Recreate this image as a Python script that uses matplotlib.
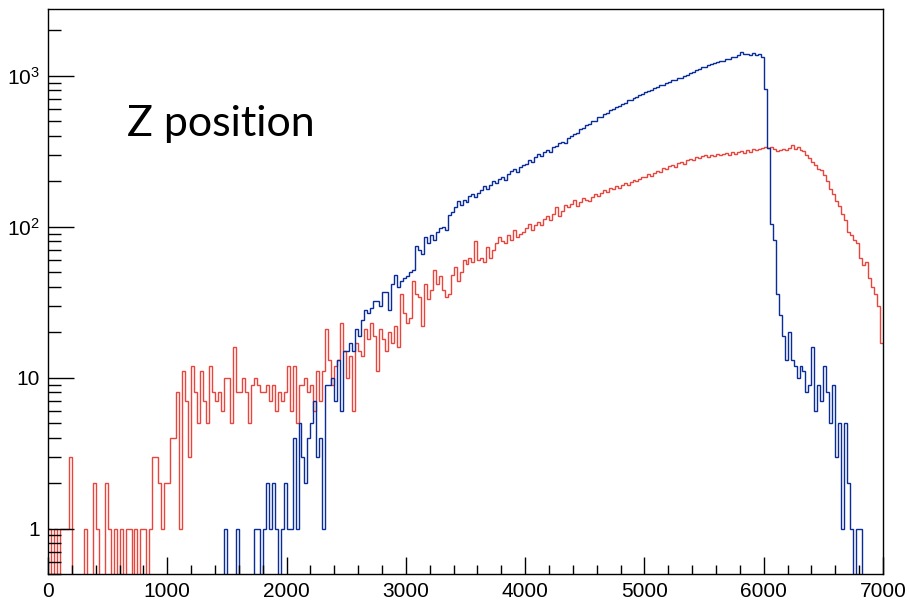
import numpy as np
import matplotlib
matplotlib.use("Agg")
import matplotlib.pyplot as plt
from matplotlib.ticker import FixedLocator, FixedFormatter, MultipleLocator, NullFormatter

# ---------------- data (counts per 25-unit bin, 0..7000) ----------------
bin_width = 25
x_min, x_max = 0, 7000

red_0_1000 = [1, 0, 1, 0, 1, 1, 1, 3, 0, 0, 0, 0, 1, 0, 0, 2, 1, 0, 0, 2,
              1, 0, 1, 0, 1, 0, 1, 1, 0, 1, 0, 1, 1, 0, 1, 3, 3, 2, 1, 2]
red_1000_2000 = [2, 4, 4, 8, 1, 11, 7, 3, 12, 8, 5, 11, 7, 5, 12, 8, 7, 8, 6, 10,
                 10, 5, 16, 8, 8, 10, 8, 5, 9, 10, 9, 8, 8, 9, 7, 9, 6, 8, 7, 8]
red_2000_3000 = [12, 6, 12, 5, 9, 9, 10, 8, 9, 6, 11, 7, 11, 21, 13, 9, 12, 13, 23, 15,
                 10, 14, 6, 17, 15, 14, 21, 18, 23, 19, 11, 21, 18, 15, 20, 17, 22, 16, 36, 27]
red_3000_4000 = [23, 25, 44, 36, 34, 22, 42, 33, 38, 52, 42, 47, 38, 34, 36, 48, 54, 44, 50, 60,
                 57, 62, 58, 81, 60, 62, 58, 73, 62, 70, 78, 85, 80, 78, 88, 82, 95, 86, 90, 92]
red_4000_5000 = [98, 105, 95, 102, 108, 103, 112, 118, 110, 122, 135, 118, 128, 140, 135, 142, 150, 138, 145, 155,
                 150, 148, 158, 165, 160, 168, 175, 170, 180, 178, 185, 180, 188, 195, 190, 198, 205, 200, 208, 212]
red_5000_6000 = [215, 222, 218, 228, 235, 230, 245, 240, 252, 258, 250, 265, 270, 262, 275, 282, 278, 290, 285, 292,
                 298, 290, 300, 295, 305, 298, 302, 310, 300, 312, 305, 315, 318, 310, 322, 315, 325, 320, 328, 332]
red_6000_7000 = [335, 330, 338, 325, 318, 322, 328, 320, 330, 350, 328, 335, 322, 318, 300, 285, 268, 255, 242, 238,
                 220, 200, 178, 165, 148, 138, 122, 110, 92, 88, 82, 78, 62, 56, 58, 46, 40, 36, 30, 17]

blue_0_1000 = [0] * 40
blue_1000_2000 = [0, 0, 0, 0, 0, 0, 0, 0, 0, 0, 0, 0, 0, 0, 0, 0, 0, 0, 0, 1,
                  0, 0, 0, 1, 0, 0, 0, 0, 0, 1, 1, 0, 1, 2, 1, 2, 1, 0, 1, 2]
blue_2000_3000 = [1, 1, 4, 1, 5, 3, 2, 4, 5, 7, 3, 4, 1, 9, 9, 10, 7, 13, 6, 15,
                  15, 17, 15, 21, 19, 24, 28, 27, 29, 32, 32, 30, 37, 37, 28, 42, 48, 40, 44, 46]
blue_3000_4000 = [47, 50, 52, 74, 70, 66, 85, 78, 88, 82, 92, 98, 100, 95, 120, 125, 135, 148, 140, 150,
                  145, 160, 165, 158, 168, 175, 185, 178, 190, 200, 195, 208, 212, 205, 225, 235, 242, 232, 250, 258]
blue_4000_5000 = [262, 275, 268, 290, 302, 292, 312, 320, 315, 338, 342, 360, 366, 358, 390, 398, 412, 420, 445, 450,
                  472, 478, 498, 505, 530, 535, 560, 565, 595, 598, 625, 632, 655, 660, 688, 690, 715, 720, 742, 755]
blue_5000_6000 = [775, 795, 805, 835, 840, 865, 875, 895, 910, 935, 940, 965, 970, 1000, 1015, 1045, 1065, 1095, 1105, 1135,
                  1150, 1185, 1195, 1215, 1225, 1255, 1260, 1285, 1295, 1325, 1335, 1375, 1430, 1395, 1400, 1375, 1410, 1380, 1395, 1330]
blue_6000_7000 = [820, 330, 105, 82, 36, 26, 19, 13, 20, 13, 12, 10, 12, 11, 8, 9, 16, 6, 9, 7,
                  12, 8, 5, 9, 3, 5, 1, 5, 2, 1, 0, 1, 1, 0, 0, 0, 0, 0, 0, 0]

red_counts = (red_0_1000 + red_1000_2000 + red_2000_3000 + red_3000_4000
              + red_4000_5000 + red_5000_6000 + red_6000_7000)
blue_counts = (blue_0_1000 + blue_1000_2000 + blue_2000_3000 + blue_3000_4000
               + blue_4000_5000 + blue_5000_6000 + blue_6000_7000)

x_ticks = [0, 1000, 2000, 3000, 4000, 5000, 6000, 7000]
y_ticks = [1, 10, 100, 1000]
y_tick_labels = ["1", "10", r"$\mathregular{10^{2}}$", r"$\mathregular{10^{3}}$"]
title_text = "Z position"

# ---------------- drawing ----------------
plt.rcParams["font.family"] = ["Liberation Sans", "DejaVu Sans"]
plt.rcParams["mathtext.fontset"] = "custom"
plt.rcParams["mathtext.rm"] = "Liberation Sans"

W, H = 910, 602
fig = plt.figure(figsize=(W / 100, H / 100), dpi=100)
L, R, T, B = 48, 883, 9, 574
ax = fig.add_axes([L / W, 1 - B / H, (R - L) / W, (B - T) / H])

edges = np.arange(x_min, x_max + bin_width, bin_width)
floor = 1e-3  # empty bins drawn below the visible range
red = np.array(red_counts, dtype=float)
blue = np.array(blue_counts, dtype=float)
red_plot = np.where(red > 0, red, floor)
blue_plot = np.where(blue > 0, blue, floor)

ax.stairs(red_plot, edges, color="#e8453c", linewidth=1.0, baseline=None)
ax.stairs(blue_plot, edges, color="#0a2c99", linewidth=1.0, baseline=None)

ax.set_yscale("log")
ax.set_xlim(x_min, x_max)
ax.set_ylim(0.5, 2770)

ax.xaxis.set_major_locator(FixedLocator(x_ticks))
ax.xaxis.set_minor_locator(MultipleLocator(200))
ax.yaxis.set_major_locator(FixedLocator(y_ticks))
ax.yaxis.set_major_formatter(FixedFormatter(y_tick_labels))
minor_y = [m * 10.0 ** e for e in range(-1, 4) for m in range(2, 10)]
minor_y = [v for v in minor_y if 0.5 <= v <= 2770]
ax.yaxis.set_minor_locator(FixedLocator(minor_y))
ax.yaxis.set_minor_formatter(NullFormatter())

ax.tick_params(axis="x", which="major", direction="in", length=12.5, width=1.0,
               labelsize=15, pad=6, top=False)
ax.tick_params(axis="x", which="minor", direction="in", length=6.2, width=1.0, top=False)
ax.tick_params(axis="y", which="major", direction="in", length=18.5, width=1.0,
               labelsize=15, pad=6, right=False)
ax.tick_params(axis="y", which="minor", direction="in", length=9.3, width=1.0, right=False)

for s in ax.spines.values():
    s.set_linewidth(1.0)
    s.set_color("black")

fig.text(127 / W, 1 - 136 / H, title_text, fontsize=31, family=["Lato", "DejaVu Sans"],
         ha="left", va="baseline", color="black")

fig.savefig("out.png", dpi=100)
